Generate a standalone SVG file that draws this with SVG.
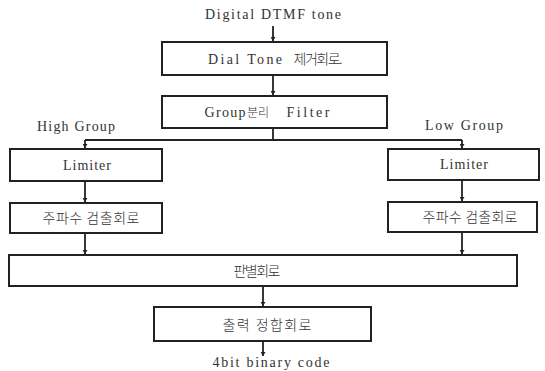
<svg xmlns="http://www.w3.org/2000/svg" width="545" height="371" viewBox="0 0 545 371">
<style>
.box{fill:#fff;stroke:#222;stroke-width:2}
.t{font-family:"Liberation Serif","Noto Sans CJK KR",serif;font-size:14px;fill:#333;text-anchor:middle}
.k{font-family:"Noto Sans CJK KR","Liberation Serif",sans-serif;font-weight:300;font-size:14px;fill:#333;text-anchor:middle}
.c{fill:none;stroke:#222;stroke-width:1.8}
</style>
<defs>
<marker id="ah" viewBox="0 0 8 10" refX="8" refY="5" markerWidth="5" markerHeight="5" orient="auto" markerUnits="userSpaceOnUse">
<path d="M0,0 L8,5 L0,10 z" fill="#222"/>
</marker>
</defs>
<rect width="545" height="371" fill="#fff"/>
<g id="connectors">
<path class="c" d="M273,26 V41" marker-end="url(#ah)"/>
<path class="c" d="M273,75 V95" marker-end="url(#ah)"/>
<path class="c" d="M273,128 V140 M85,140 H462"/>
<path class="c" d="M85,140 V148" marker-end="url(#ah)"/>
<path class="c" d="M462,140 V148" marker-end="url(#ah)"/>
<path class="c" d="M85,181 V202" marker-end="url(#ah)"/>
<path class="c" d="M462,180 V201" marker-end="url(#ah)"/>
<path class="c" d="M85,233 V254" marker-end="url(#ah)"/>
<path class="c" d="M462,232 V254" marker-end="url(#ah)"/>
<path class="c" d="M263,286 V306" marker-end="url(#ah)"/>
<path class="c" d="M263,341 V356" marker-end="url(#ah)"/>
</g>
<g id="input"><text class="t" x="273" y="19" textLength="136" lengthAdjust="spacing">Digital DTMF tone</text></g>
<g id="dialtone">
<rect class="box" x="162" y="42" width="225" height="33"/>
<text class="t" x="245" y="64" textLength="74" lengthAdjust="spacing">Dial Tone</text>
<text class="k" x="318" y="64" textLength="49" lengthAdjust="spacing">제거회로.</text>
</g>
<g id="groupfilter">
<rect class="box" x="162" y="96" width="225" height="32"/>
<text class="t" x="225" y="117" textLength="41" lengthAdjust="spacing">Group</text>
<text class="k" x="258" y="117" style="font-size:12px">분리</text>
<text class="t" x="308" y="117" textLength="43" lengthAdjust="spacing">Filter</text>
</g>
<g id="highlabel"><text class="t" x="76" y="131" textLength="78" lengthAdjust="spacing">High Group</text></g>
<g id="lowlabel"><text class="t" x="464" y="130" textLength="78" lengthAdjust="spacing">Low Group</text></g>
<g id="limiterH">
<rect class="box" x="10" y="149" width="152" height="32"/>
<text class="t" x="87" y="170" textLength="48" lengthAdjust="spacing">Limiter</text>
</g>
<g id="limiterL">
<rect class="box" x="388" y="149" width="151" height="31"/>
<text class="t" x="464" y="169" textLength="48" lengthAdjust="spacing">Limiter</text>
</g>
<g id="freqH">
<rect class="box" x="10" y="203" width="152" height="30"/>
<text class="k" x="91" y="223" textLength="97" lengthAdjust="spacing">주파수 검출회로</text>
</g>
<g id="freqL">
<rect class="box" x="388" y="202" width="149" height="30"/>
<text class="k" x="470" y="222" textLength="95" lengthAdjust="spacing">주파수 검출회로</text>
</g>
<g id="decision">
<rect class="box" x="9" y="255" width="508" height="31"/>
<text class="k" x="257" y="276" textLength="47" lengthAdjust="spacing">판별회로</text>
</g>
<g id="output">
<rect class="box" x="154" y="307" width="217" height="34"/>
<text class="k" x="267" y="330" textLength="89" lengthAdjust="spacing">출력 정합회로</text>
</g>
<g id="outlabel"><text class="t" x="271" y="367" textLength="117" lengthAdjust="spacing">4bit binary code</text></g>
</svg>
